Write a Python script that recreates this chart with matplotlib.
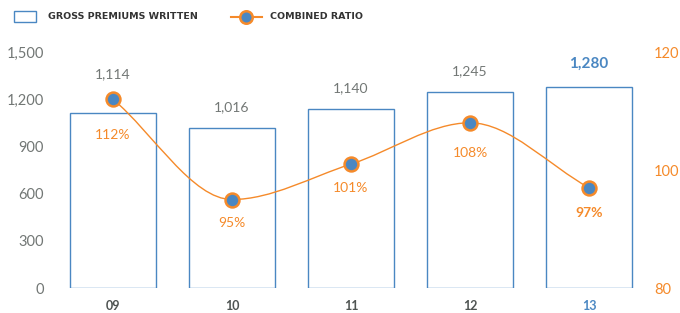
import numpy as np
import matplotlib.pyplot as plt
from matplotlib.path import Path
from matplotlib.patches import PathPatch, Rectangle
from matplotlib.lines import Line2D

years = ['09', '10', '11', '12', '13']
premiums = [1114, 1016, 1140, 1245, 1280]
ratios = [112, 95, 101, 108, 97]

BLUE = '#4a87c2'
ORANGE = '#f58a2a'
GRAY = '#727775'
DARK = '#4f5452'

plt.rcParams['font.family'] = ['Lato', 'DejaVu Sans']

fig = plt.figure(figsize=(6.8, 3.13), dpi=100)
ax = fig.add_axes([53.5 / 680, 25 / 313, 595 / 680, 236 / 313])
ax2 = ax.twinx()

x = np.arange(len(years))
ax.bar(x, premiums, width=0.715, facecolor='white', edgecolor=BLUE, linewidth=1.0)
ax.set_xlim(-0.5, 4.5)
ax.set_ylim(0, 1500)
ax.set_yticks([0, 300, 600, 900, 1200, 1500])
ax.set_yticklabels(['0', '300', '600', '900', '1,200', '1,500'])
ax2.set_ylim(80, 120)
ax2.set_yticks([80, 100, 120])

for a in (ax, ax2):
    for s in a.spines.values():
        s.set_visible(False)
ax.tick_params(axis='y', length=0, pad=7, labelsize=10.5, labelcolor=GRAY)
ax2.tick_params(axis='y', length=0, pad=4, labelsize=10.5, labelcolor=ORANGE)

ax.set_xticks(x)
ax.set_xticklabels(years)
ax.tick_params(axis='x', length=0, pad=9, labelsize=9)
for i, t in enumerate(ax.get_xticklabels()):
    t.set_fontweight('bold')
    t.set_color(BLUE if i == len(years) - 1 else DARK)

# value labels above bars
bar_label_offsets = [28, 15, 14.5, 15, 16.5]
for i, v in enumerate(premiums):
    last = i == len(premiums) - 1
    ax.annotate(f'{v:,}', (x[i], v), xytext=(0, bar_label_offsets[i]),
                textcoords='offset points', ha='center', va='center',
                fontsize=11 if last else 10,
                fontweight='bold' if last else 'normal',
                color=BLUE if last else GRAY)

# smooth monotone curve through ratios (Bezier via library path)
xs = x.astype(float)
ys = np.array(ratios, dtype=float)
d = np.diff(ys)
m = np.zeros(len(ys))
for i in range(1, len(ys) - 1):
    if d[i - 1] * d[i] > 0:
        m[i] = 2 / (1 / d[i - 1] + 1 / d[i])
m[0] = d[0]
m[-1] = d[-1]
verts = [(xs[0], ys[0])]
codes = [Path.MOVETO]
for i in range(len(xs) - 1):
    verts += [(xs[i] + 1 / 3, ys[i] + m[i] / 3),
              (xs[i + 1] - 1 / 3, ys[i + 1] - m[i + 1] / 3),
              (xs[i + 1], ys[i + 1])]
    codes += [Path.CURVE4] * 3
ax2.add_patch(PathPatch(Path(verts, codes), facecolor='none', edgecolor=ORANGE,
                        linewidth=1.0, zorder=3))
ax2.plot(xs, ys, linestyle='none', marker='o', markersize=10,
         markerfacecolor=BLUE, markeredgecolor=ORANGE, markeredgewidth=1.8, zorder=4)

label_offsets = [-26, -17, -17, -22, -18]
for i, r in enumerate(ratios):
    last = i == len(ratios) - 1
    ax2.annotate(f'{r}%', (xs[i], r), xytext=(0, label_offsets[i]),
                 textcoords='offset points', ha='center', va='center',
                 fontsize=10, fontweight='bold' if last else 'normal', color=ORANGE)

# legend
legend_y = 1 - 16.5 / 313
fig.patches.append(Rectangle((14 / 680, 1 - 22 / 313), 22 / 680, 11 / 313,
                             transform=fig.transFigure, facecolor='white',
                             edgecolor=BLUE, linewidth=1.0))
fig.text(48 / 680, legend_y, 'GROSS PREMIUMS WRITTEN', family='DejaVu Sans',
         fontsize=6.8, fontweight='bold', color='#333333', va='center', ha='left')
fig.lines.append(Line2D([231 / 680, 262 / 680], [legend_y] * 2,
                        transform=fig.transFigure, color=ORANGE, linewidth=1.5))
fig.lines.append(Line2D([246 / 680], [legend_y], transform=fig.transFigure,
                        marker='o', markersize=9, markerfacecolor=BLUE,
                        markeredgecolor=ORANGE, markeredgewidth=1.8))
fig.text(270 / 680, legend_y, 'COMBINED RATIO', family='DejaVu Sans',
         fontsize=6.8, fontweight='bold', color='#333333', va='center', ha='left')

fig.savefig('out.png', dpi=100)
